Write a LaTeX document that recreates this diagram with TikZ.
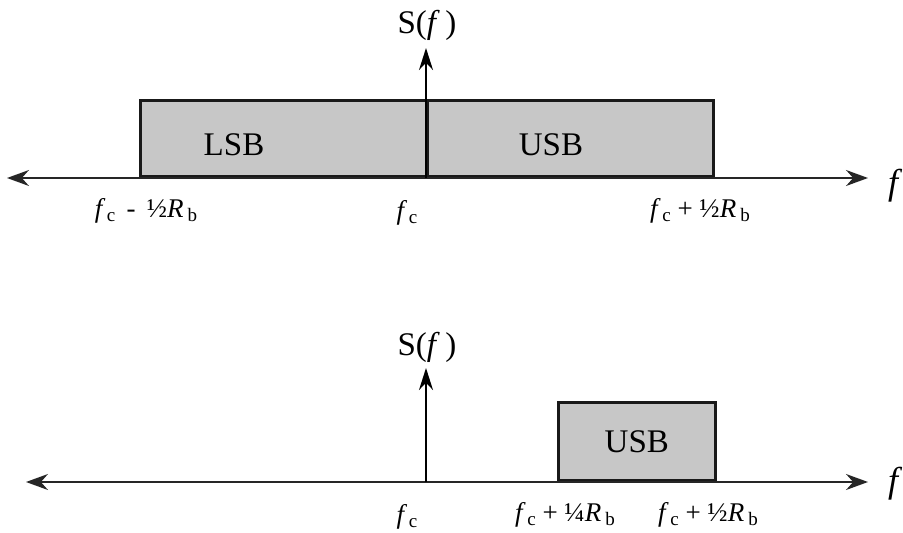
\documentclass[tikz,border=0pt]{standalone}
\usepackage{fontspec}
\setmainfont{Liberation Serif}
\usetikzlibrary{arrows.meta,positioning}

% subscripts and labels of the frequency axis
\newcommand{\lowsub}[1]{\raisebox{-0.4ex}{\fontsize{19}{19}\selectfont #1}}
\newcommand{\fcarr}{\textit{f}\kern1.5pt\lowsub{c}}
\newcommand{\rbit}{\textit{R}\kern4pt\lowsub{b}}

\begin{document}
\begin{tikzpicture}[
        x=1pt, y=-1pt,
        faxis/.style={
            draw=black!85,
            line width=1.5pt,
            {Stealth[length=22pt,width=16pt]}-{Stealth[length=22pt,width=16pt]}
        },
        saxis/.style={
            draw=black,
            line width=1.5pt,
            -{Stealth[length=22pt,width=14pt]}
        },
        band/.style={
            rectangle,
            draw=black!90,
            line width=2.6pt,
            fill=black!22,
            inner sep=0pt,
            anchor=south west
        },
        bandtext/.style={font=\fontsize{33}{33}\selectfont, inner sep=0pt},
        ticktext/.style={font=\fontsize{27}{27}\selectfont, inner sep=0pt, anchor=base},
        axistext/.style={font=\fontsize{36}{36}\selectfont\itshape, inner sep=0pt}
    ]
        \useasboundingbox (0,0) rectangle (903,533);

        % -- Top spectrum (both sidebands) --

        % axes
        \coordinate (topL) at (7,178);
        \coordinate (topR) at (868,178);
        \coordinate (topO) at (426,178);
        \coordinate (topTip) at (426,48);

        % sidebands
        \node [band, minimum width=287pt, minimum height=76pt] (lsbTop) at (139,178) {};
        \node [band, minimum width=286pt, minimum height=76pt] (usbTop) at (426,178) {};
        \node [bandtext] (lsbTopText) at (234,145) {LSB};
        \node [bandtext] (usbTopText) at (551,145) {USB};

        \path [faxis] (topL) -- (topR);
        \path [saxis] (topO) -- (topTip);

        % labels
        \node [bandtext] (sTop) at (427,25) {S(\textit{f}\,)};
        \node [axistext] (fTop) at (893,186) {f};
        \node [ticktext] (lowTop) at (146,217) {\fcarr\ \,-\, ½\rbit};
        \node [ticktext] (midTop) at (407,219) {\fcarr};
        \node [ticktext] (highTop) at (700,217) {\fcarr\ + ½\rbit};

        % -- Bottom spectrum (upper sideband only) --

        % axes
        \coordinate (botL) at (26,482);
        \coordinate (botR) at (868,482);
        \coordinate (botO) at (426,482);
        \coordinate (botTip) at (426,368);

        % sideband
        \node [band, minimum width=157pt, minimum height=78pt] (usbBot) at (557,482) {};
        \node [bandtext] (usbBotText) at (usbBot.center) {USB};

        \path [faxis] (botL) -- (botR);
        \path [saxis] (botO) -- (botTip);

        % labels
        \node [bandtext] (sBot) at (427,347) {S(\textit{f}\,)};
        \node [axistext] (fBot) at (893,484) {f};
        \node [ticktext] (midBot) at (407,523) {\fcarr};
        \node [ticktext] (quarterBot) at (565,521) {\fcarr\ + ¼\rbit};
        \node [ticktext] (halfBot) at (708,521) {\fcarr\ + ½\rbit};

    \end{tikzpicture}
\end{document}
